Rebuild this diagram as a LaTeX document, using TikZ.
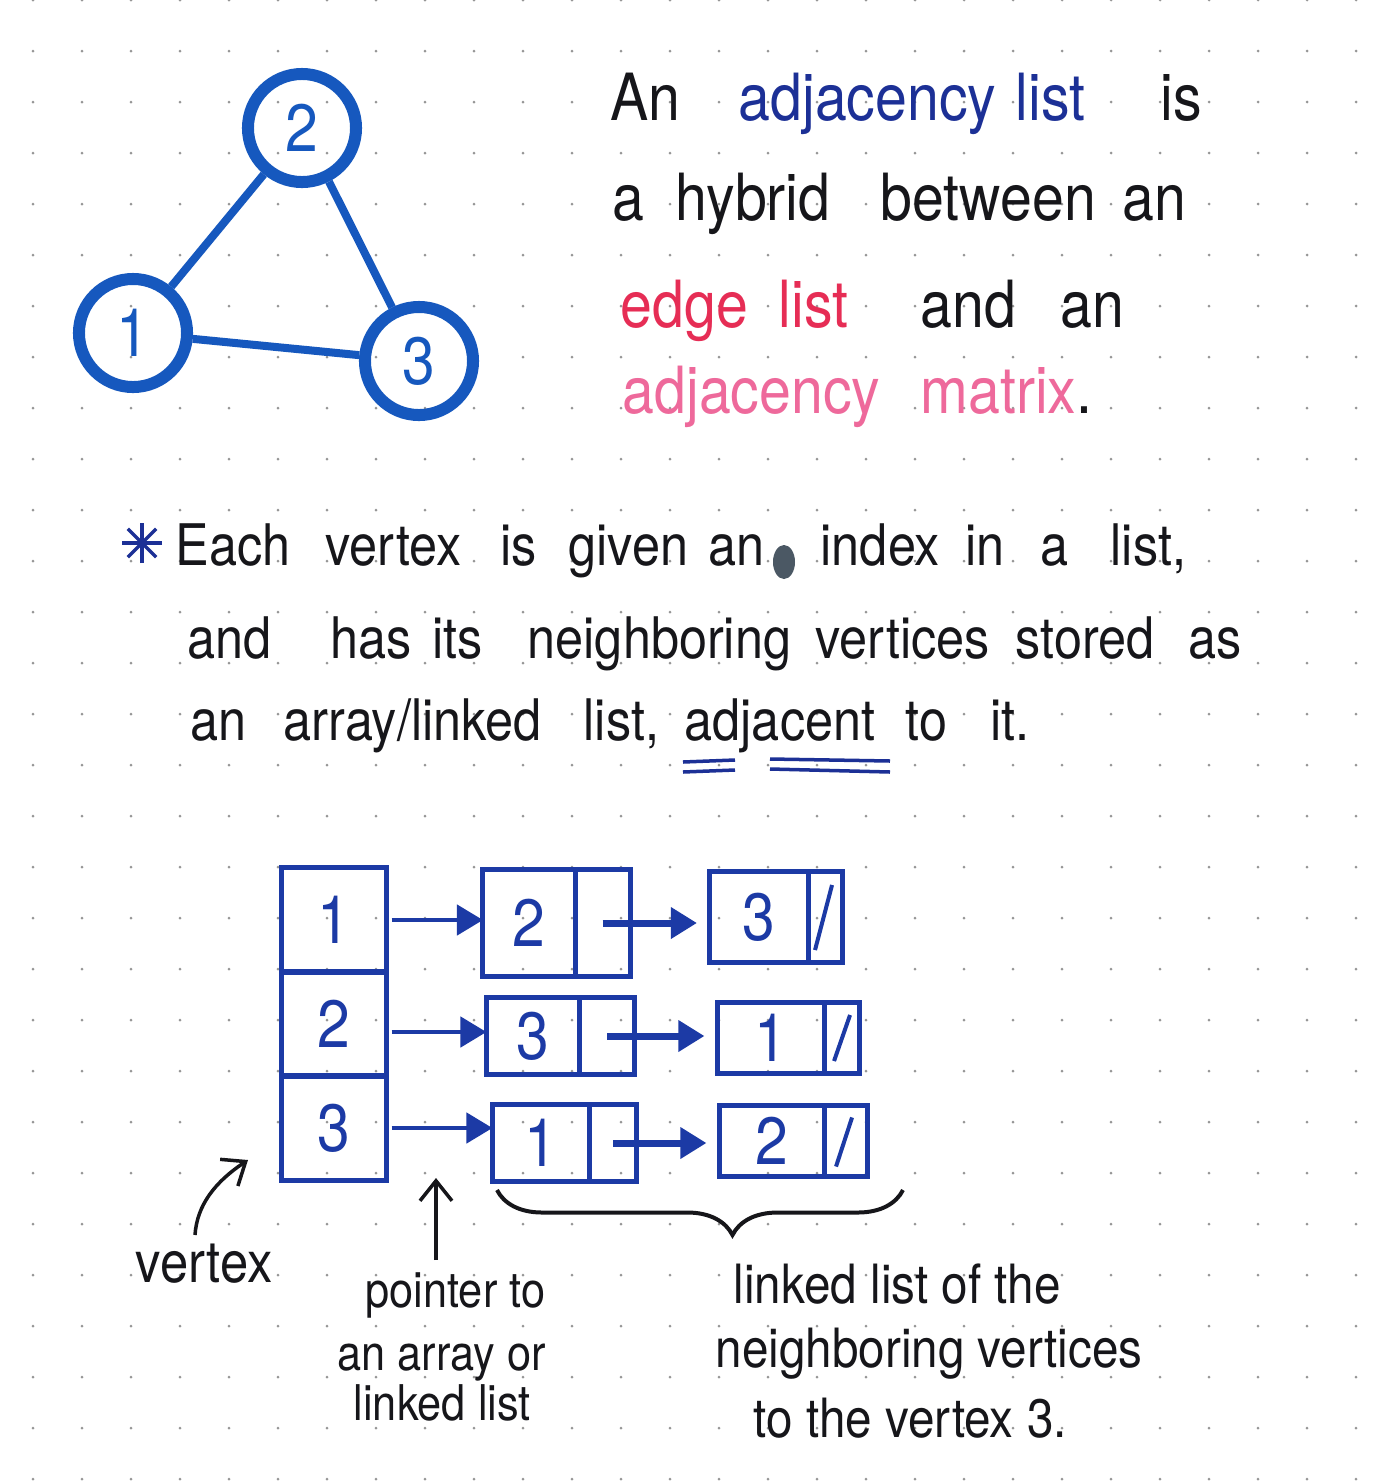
\documentclass[tikz,border=0pt]{standalone}
\usepackage{fontspec}
\setmainfont{TeX Gyre Heros}[FakeStretch=0.88]
\usetikzlibrary{positioning, arrows.meta, decorations.pathreplacing}

\definecolor{ink}{RGB}{22,22,26}
\definecolor{navy}{RGB}{28,48,150}
\definecolor{edgered}{RGB}{230,45,85}
\definecolor{matpink}{RGB}{238,105,155}
\definecolor{gblue}{RGB}{22,88,190}
\definecolor{lblue}{RGB}{28,58,165}
\definecolor{dotgray}{RGB}{150,150,150}
\definecolor{blotgray}{RGB}{75,88,100}

\tikzset{
    word/.style = {anchor=base west, inner sep=0pt, text=ink},
    toptxt/.style = {font=\fontsize{18.5}{22}\selectfont},
    bodytxt/.style = {font=\fontsize{16.3}{20}\selectfont},
    notetxt/.style = {font=\fontsize{14}{17}\selectfont},
    sidetxt/.style = {font=\fontsize{15.4}{18}\selectfont},
    vert/.style = {draw=gblue, circle, line width=0.12cm, minimum size=1.08cm,
        inner sep=0pt, text=gblue, font=\fontsize{19}{21}\selectfont},
    gedge/.style = {draw=gblue, line width=0.08cm},
    cell/.style = {draw=lblue, line width=0.05cm, rectangle, inner sep=0pt,
        outer sep=0pt, text=lblue, font=\fontsize{19}{21}\selectfont},
    ptr/.style = {draw=lblue, line width=0.045cm, -{Triangle[length=0.26cm, width=0.3cm]}},
    ptrb/.style = {ptr, line width=0.07cm, shorten >=0.13cm},
    nilbar/.style = {draw=lblue, line width=0.04cm},
    note/.style = {draw=ink, line width=0.035cm, -{Straight Barb[length=0.2cm, width=0.32cm]}},
    uline/.style = {draw=navy, line width=0.035cm},
    brace/.style = {draw=ink, line width=0.04cm, decorate,
        decoration={brace, amplitude=0.45cm, aspect=0.42}},
}

\begin{document}
\begin{tikzpicture}[x=0.01cm, y=-0.01cm]

    \useasboundingbox (0,0) rectangle (1400,1484);
    \fill[white] (0,0) rectangle (1400,1484);

    % dotted paper
    \foreach \i in {0,...,27}
        \foreach \j in {0,...,29}
            \fill[dotgray] (33+49*\i, 51*\j) circle (1.5);

    %--------------------------------------------

    \node[vert] (n2) at (302, 128) {2};
    \node[vert] (n1) at (133, 333) {1};
    \node[vert] (n3) at (419, 361) {3};
    \draw[gedge] (n1) -- (n2);
    \draw[gedge] (n2) -- (n3);
    \draw[gedge] (n1) -- (n3);

    %--------------------------------------------

    \node[word, toptxt] (t1an) at (610, 120) {An};
    \node[word, toptxt, text=navy] (t1adj) at (738, 120) {adjacency};
    \node[word, toptxt, text=navy] (t1list) at (1015, 120) {list};
    \node[word, toptxt] (t1is) at (1160, 120) {is};

    \node[word, toptxt] (t2a) at (612, 220) {a};
    \node[word, toptxt] (t2hybrid) at (675, 220) {hybrid};
    \node[word, toptxt] (t2between) at (880, 220) {between};
    \node[word, toptxt] (t2an) at (1122, 220) {an};

    \node[word, toptxt, text=edgered] (t3edge) at (620, 327) {edge};
    \node[word, toptxt, text=edgered] (t3list) at (778, 327) {list};
    \node[word, toptxt] (t3and) at (920, 327) {and};
    \node[word, toptxt] (t3an) at (1060, 327) {an};

    \node[word, toptxt, text=matpink] (t4adj) at (622, 413) {adjacency};
    \node[word, toptxt, text=matpink] (t4matrix) at (920, 413) {matrix\textcolor{ink}{.}};

    %--------------------------------------------

    \coordinate (star) at (142, 543);
    \foreach \a in {0, 45, 90, 135}
        \draw[navy, line width=0.035cm] (star) ++(\a:20) -- ++(\a+180:40);

    \node[word, bodytxt] (m1each) at (175, 565) {Each};
    \node[word, bodytxt] (m1vertex) at (325, 565) {vertex};
    \node[word, bodytxt] (m1is) at (500, 565) {is};
    \node[word, bodytxt] (m1given) at (568, 565) {given};
    \node[word, bodytxt] (m1an) at (708, 565) {an};
    \fill[blotgray] (784, 562) ellipse (11 and 17);
    \node[word, bodytxt] (m1index) at (820, 565) {index};
    \node[word, bodytxt] (m1in) at (965, 565) {in};
    \node[word, bodytxt] (m1a) at (1040, 565) {a};
    \node[word, bodytxt] (m1list) at (1110, 565) {list,};

    \node[word, bodytxt] (m2and) at (187, 658) {and};
    \node[word, bodytxt] (m2has) at (330, 658) {has};
    \node[word, bodytxt] (m2its) at (432, 658) {its};
    \node[word, bodytxt] (m2neigh) at (527, 658) {neighboring};
    \node[word, bodytxt] (m2vert) at (815, 658) {vertices};
    \node[word, bodytxt] (m2stored) at (1015, 658) {stored};
    \node[word, bodytxt] (m2as) at (1188, 658) {as};

    \node[word, bodytxt] (m3an) at (190, 740) {an};
    \node[word, bodytxt] (m3array) at (283, 740) {array/linked};
    \node[word, bodytxt] (m3list) at (583, 740) {list,};
    \node[word, bodytxt] (m3adj) at (684, 740) {adjacent};
    \node[word, bodytxt] (m3to) at (905, 740) {to};
    \node[word, bodytxt] (m3it) at (990, 740) {it.};

    \draw[uline] (683, 762) -- (735, 760);
    \draw[uline] (683, 772) -- (735, 770);
    \draw[uline] (770, 759) -- (890, 761);
    \draw[uline] (770, 769) -- (890, 772);

    %--------------------------------------------

    \node[cell, minimum width=1.05cm, minimum height=1.04cm] (v1) at (334, 920) {1};
    \node[cell, minimum width=1.05cm, minimum height=1.04cm] (v2) at (334, 1024) {2};
    \node[cell, minimum width=1.05cm, minimum height=1.04cm] (v3) at (334, 1128) {3};

    \node[cell, minimum width=0.92cm, minimum height=1.06cm] (a1) at (529, 923) {2};
    \node[cell, minimum width=0.55cm, minimum height=1.06cm, right=0pt of a1] (a1p) {};
    \node[cell, minimum width=0.98cm, minimum height=0.9cm] (b1) at (759, 917) {3};
    \node[cell, minimum width=0.34cm, minimum height=0.9cm, right=0pt of b1] (b1p) {};

    \node[cell, minimum width=0.93cm, minimum height=0.77cm] (a2) at (533, 1036) {3};
    \node[cell, minimum width=0.55cm, minimum height=0.77cm, right=0pt of a2] (a2p) {};
    \node[cell, minimum width=1.07cm, minimum height=0.7cm] (b2) at (771, 1038) {1};
    \node[cell, minimum width=0.35cm, minimum height=0.7cm, right=0pt of b2] (b2p) {};

    \node[cell, minimum width=0.97cm, minimum height=0.77cm] (a3) at (541, 1143) {1};
    \node[cell, minimum width=0.47cm, minimum height=0.77cm, right=0pt of a3] (a3p) {};
    \node[cell, minimum width=1.05cm, minimum height=0.71cm] (b3) at (772, 1141) {2};
    \node[cell, minimum width=0.43cm, minimum height=0.71cm, right=0pt of b3] (b3p) {};

    \draw[ptr, shorten <=0.05cm] (v1.east) -- (v1.east -| a1.west);
    \draw[ptr, shorten <=0.05cm] ([yshift=-0.08cm]v2.east) -- ([yshift=-0.08cm]v2.east -| a2.west);
    \draw[ptr, shorten <=0.05cm] (v3.east) -- (v3.east -| a3.west);
    \draw[ptrb] (a1p.center) -- (a1p.center -| b1.west);
    \draw[ptrb] (a2p.center) -- (a2p.center -| b2.west);
    \draw[ptrb] (a3p.center) -- (a3p.center -| b3.west);

    \draw[nilbar] ([xshift=-0.1cm, yshift=0.12cm]b1p.south) -- ([xshift=0.07cm, yshift=-0.13cm]b1p.north);
    \draw[nilbar] ([xshift=-0.08cm, yshift=0.12cm]b2p.south) -- ([xshift=0.08cm, yshift=-0.12cm]b2p.north);
    \draw[nilbar] ([xshift=-0.1cm, yshift=0.1cm]b3p.south) -- ([xshift=0.06cm, yshift=-0.12cm]b3p.north);

    %--------------------------------------------

    \coordinate (brR) at (903, 1190);
    \coordinate (brL) at (497, 1190);
    \draw[brace] (brR) -- (brL);

    \node[word, font=\fontsize{16.4}{20}\selectfont] (vtx) at (135, 1282) {vertex};
    \coordinate (vtxtail) at (195, 1235);
    \coordinate (vtxtip) at (248, 1160);
    \draw[note] (vtxtail) .. controls (197, 1205) and (215, 1182) .. (vtxtip);

    \coordinate (ptrtail) at (436, 1260);
    \coordinate (ptrtip) at (436, 1178);
    \draw[note] (ptrtail) -- (ptrtip);

    \node[word, notetxt] (ptr1) at (365, 1307) {pointer to};
    \node[word, notetxt] (ptr2) at (337, 1370) {an array or};
    \node[word, notetxt] (ptr3) at (353, 1420) {linked list};

    \node[word, sidetxt] (nb1) at (733, 1303) {linked list of the};
    \node[word, sidetxt] (nb2) at (715, 1367) {neighboring vertices};
    \node[word, sidetxt] (nb3) at (753, 1437) {to the vertex 3.};

\end{tikzpicture}
\end{document}
